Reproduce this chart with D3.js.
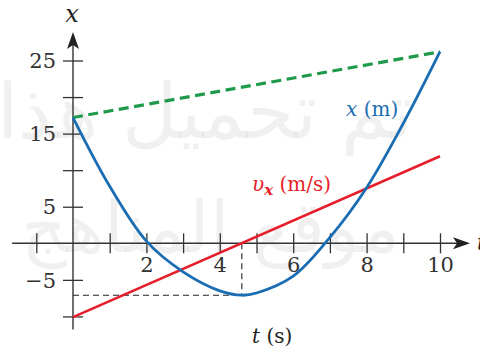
<!DOCTYPE html>
<html>
<head>
<meta charset="utf-8">
<script src="https://cdn.jsdelivr.net/npm/d3@7"></script>
<style>
  html, body { margin: 0; padding: 0; background: #fff; }
  svg { display: block; }
</style>
</head>
<body>
<svg id="chart" width="480" height="356"></svg>
<script>
// Position of the particle, x (m), at time t (s)
const posT = [0, 1, 2, 3, 4, 4.6, 5, 6, 7, 8, 9, 10];
const posX = [17.2, 7.8, 0.3, -3.9, -6.5, -7.1, -6.8, -4.5, 0.8, 7.6, 16.4, 26.2];

// Velocity v_x (m/s): straight line from t = 0 to t = 10
const velT = [0, 10];
const velV = [-10.1, 11.9];

// Chord joining the start and end positions
const chordT = [0, 10];
const chordX = [17.2, 26.2];

// Turning point (minimum of x)
const minT = 4.6;
const minX = -7.1;

// Axis ticks
const tTicks = [-1, 1, 2, 3, 4, 5, 6, 7, 8, 9, 10];
const tLabels = [2, 4, 6, 8, 10];
const xTicks = [-10, -5, 5, 10, 15, 20, 25];
const xLabels = [-5, 5, 15, 25];

const BLUE = "#1b6db3", RED = "#e61e2b", GREEN = "#1f9a4b", AXIS = "#333";
const SERIF = "'DejaVu Serif', serif";

const svg = d3.select("#chart");
const xs = d3.scaleLinear().domain([0, 10]).range([73, 440]);
const ys = d3.scaleLinear().domain([0, 25]).range([243.3, 60.5]);

// Faint background lettering
const wm = svg.append("g").attr("fill", "#000").attr("fill-opacity", 0.06)
  .style("font-family", "'DejaVu Sans'").style("font-weight", 200).attr("direction", "rtl");
function fitText(str, xRight, xLeft, baseline) {
  const t = wm.append("text").attr("x", xRight).attr("y", baseline)
    .attr("text-anchor", "start").style("font-size", "50px").text(str);
  const w = t.node().getComputedTextLength();
  t.style("font-size", (50 * (xRight - xLeft) / w) + "px");
}
fitText("تم تحميل هذا", 413, 0, 138);
fitText("موقع المناهج", 400, 20, 252);

// Dashed guides to the turning point
const guides = svg.append("g").attr("stroke", "#222").attr("stroke-width", 1.1)
  .attr("stroke-dasharray", "6,4").attr("fill", "none");
guides.append("line").attr("x1", xs(0)).attr("x2", xs(minT))
  .attr("y1", ys(minX)).attr("y2", ys(minX));
guides.append("line").attr("x1", xs(minT)).attr("x2", xs(minT))
  .attr("y1", ys(0)).attr("y2", ys(minX));

// Axes: vertical x axis and horizontal t axis, with crossing ticks
const axisG = svg.append("g");
const yAxis = d3.axisLeft(ys).tickValues(xTicks).tickSize(10)
  .tickFormat(d => xLabels.includes(d) ? String(d).replace("-", "\u2212") : "");
const ya = axisG.append("g").attr("transform", `translate(${xs(0)},0)`).call(yAxis);
ya.attr("font-family", null);
ya.select(".domain").remove();
ya.selectAll(".tick line").attr("x1", 10).attr("stroke", AXIS).attr("stroke-width", 1.3);
ya.selectAll(".tick text").attr("x", -17).attr("dy", "0.34em")
  .style("font-size", "21px").style("font-family", SERIF).attr("fill", "#333");

const tAxis = d3.axisBottom(xs).tickValues(tTicks).tickSize(10)
  .tickFormat(d => tLabels.includes(d) ? String(d) : "");
const ta = axisG.append("g").attr("transform", `translate(0,${ys(0)})`).call(tAxis);
ta.attr("font-family", null);
ta.select(".domain").remove();
ta.selectAll(".tick line").attr("y1", -10).attr("stroke", AXIS).attr("stroke-width", 1.3);
ta.selectAll(".tick text").attr("y", 14).attr("dy", "0.71em")
  .style("font-size", "21px").style("font-family", SERIF).attr("fill", "#333");

// Axis lines with arrowheads
axisG.append("line").attr("x1", xs(-1.66)).attr("x2", 462).attr("y1", ys(0)).attr("y2", ys(0))
  .attr("stroke", AXIS).attr("stroke-width", 1.4);
axisG.append("line").attr("x1", xs(0)).attr("x2", xs(0)).attr("y1", ys(-11.8)).attr("y2", 40)
  .attr("stroke", AXIS).attr("stroke-width", 1.4);
const ax = 470, ay = ys(0);
axisG.append("path").attr("fill", "#222")
  .attr("d", `M${ax},${ay} L${ax - 17},${ay - 6} L${ax - 13},${ay} L${ax - 17},${ay + 6} Z`);
const bx = xs(0), by = 32;
axisG.append("path").attr("fill", "#222")
  .attr("d", `M${bx},${by} L${bx - 6},${by + 17} L${bx},${by + 13} L${bx + 6},${by + 17} Z`);

// Chord (green dashed)
svg.append("line")
  .attr("x1", xs(chordT[0])).attr("y1", ys(chordX[0]))
  .attr("x2", xs(chordT[1])).attr("y2", ys(chordX[1]))
  .attr("stroke", GREEN).attr("stroke-width", 3.2).attr("stroke-dasharray", "10,5.5");

// Velocity line
svg.append("line")
  .attr("x1", xs(velT[0])).attr("y1", ys(velV[0]))
  .attr("x2", xs(velT[1])).attr("y2", ys(velV[1]))
  .attr("stroke", RED).attr("stroke-width", 2.6);

// Position curve
const posData = posT.map((t, i) => [t, posX[i]]);
svg.append("path").datum(posData)
  .attr("fill", "none").attr("stroke", BLUE).attr("stroke-width", 2.8)
  .attr("d", d3.line().x(d => xs(d[0])).y(d => ys(d[1])).curve(d3.curveCatmullRom.alpha(0.5)));

// Labels
const lab = svg.append("g").style("font-family", SERIF);
lab.append("text").attr("x", 72).attr("y", 22).attr("text-anchor", "middle")
  .style("font-size", "24px").style("font-style", "italic").attr("fill", "#222").text("x");
lab.append("text").attr("x", 477).attr("y", 250)
  .style("font-size", "22px").style("font-style", "italic").attr("fill", "#222").text("t");

const xl = lab.append("text").attr("x", 346).attr("y", 116).style("font-size", "20px").attr("fill", BLUE);
xl.append("tspan").style("font-style", "italic").text("x");
xl.append("tspan").text(" (m)");

const vl = lab.append("text").attr("x", 252).attr("y", 191).style("font-size", "20px").attr("fill", RED);
vl.append("tspan").style("font-style", "italic").text("\u03C5");
vl.append("tspan").style("font-style", "italic").style("font-weight", "bold")
  .style("font-size", "15px").attr("dy", 4).text("x");
vl.append("tspan").attr("dy", -4).text(" (m/s)");

const tl = lab.append("text").attr("x", 252).attr("y", 343).style("font-size", "20px").attr("fill", "#222");
tl.append("tspan").style("font-style", "italic").text("t");
tl.append("tspan").text(" (s)");
</script>
</body>
</html>
